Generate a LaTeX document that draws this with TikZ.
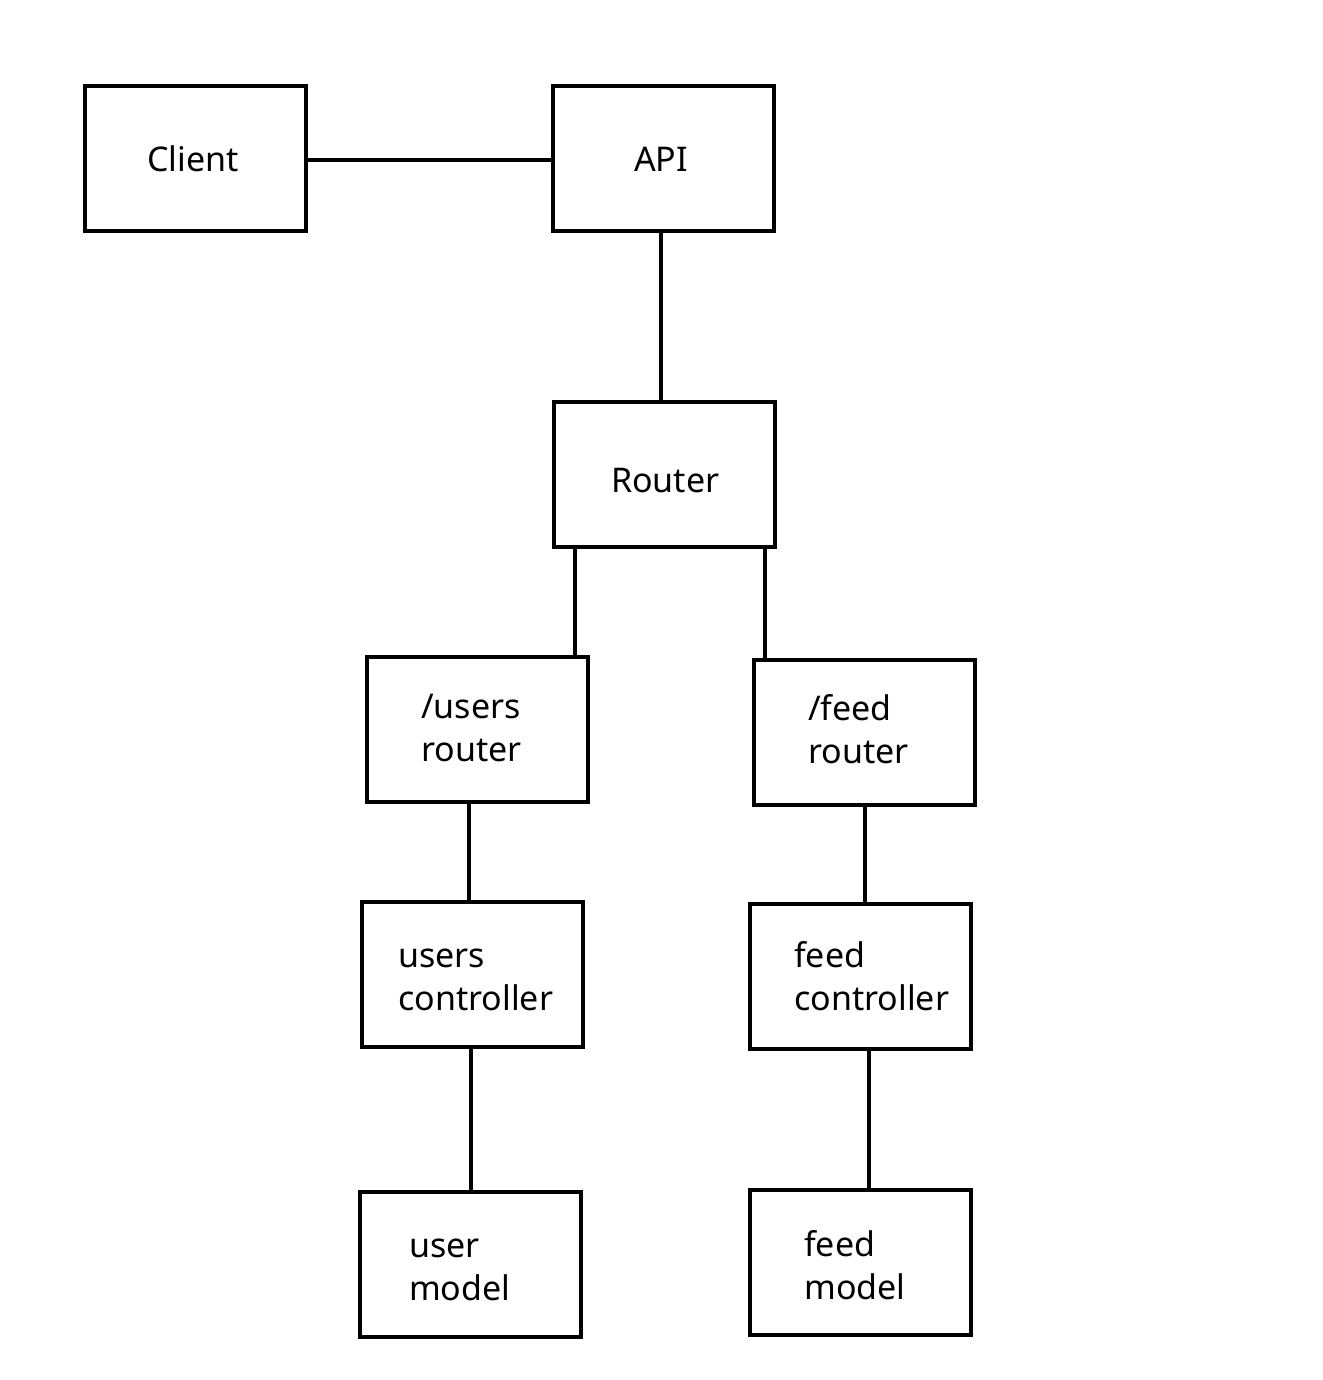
\documentclass[tikz,border=0pt]{standalone}
\usepackage{fontspec}
\setmainfont{Noto Sans}
\begin{document}
\begin{tikzpicture}[x=1pt,y=-1pt,
  box/.style={draw=black,line width=4.2pt,minimum width=221pt,minimum height=145pt,inner sep=0pt},
  lbl/.style={anchor=base west,inner sep=0pt,font=\fontsize{34}{43}\selectfont},
  link/.style={line width=4.2pt}]
\useasboundingbox (0,0) rectangle (1322,1380);
\node[box] (client) at (195.5,158.5) {};
\node[box] (api) at (663.5,158.5) {};
\node[box] (router) at (664.5,474.5) {};
\node[box] (urouter) at (477.5,729.5) {};
\node[box] (frouter) at (864.5,732.5) {};
\node[box] (uctrl) at (472.5,974.5) {};
\node[box] (fctrl) at (860.5,976.5) {};
\node[box] (umodel) at (470.5,1264.5) {};
\node[box] (fmodel) at (860.5,1262.5) {};
\node[lbl] (tclient) at (147,172) {Client};
\node[lbl] (tapi) at (634,172) {API};
\node[lbl] (trouter) at (611,492) {Router};
\node[lbl] (tur1) at (421,718) {/users};
\node[lbl] (tur2) at (421,761) {router};
\node[lbl] (tfr1) at (808,720) {/feed};
\node[lbl] (tfr2) at (808,763) {router};
\node[lbl] (tuc1) at (398,967) {users};
\node[lbl] (tuc2) at (398,1010) {controller};
\node[lbl] (tfc1) at (794,967) {feed};
\node[lbl] (tfc2) at (794,1010) {controller};
\node[lbl] (tum1) at (409,1257) {user};
\node[lbl] (tum2) at (409,1300) {model};
\node[lbl] (tfm1) at (804,1256) {feed};
\node[lbl] (tfm2) at (804,1299) {model};
\draw[link] (client.east |- 0,160) -- (api.west |- 0,160);
\draw[link] (api.south -| 661,0) -- (router.north -| 661,0);
\draw[link] (router.south -| 575,0) -- (urouter.north -| 575,0);
\draw[link] (router.south -| 765,0) -- (frouter.north -| 765,0);
\draw[link] (urouter.south -| 469,0) -- (uctrl.north -| 469,0);
\draw[link] (frouter.south -| 865,0) -- (fctrl.north -| 865,0);
\draw[link] (uctrl.south -| 471,0) -- (umodel.north -| 471,0);
\draw[link] (fctrl.south -| 869,0) -- (fmodel.north -| 869,0);
\end{tikzpicture}
\end{document}
